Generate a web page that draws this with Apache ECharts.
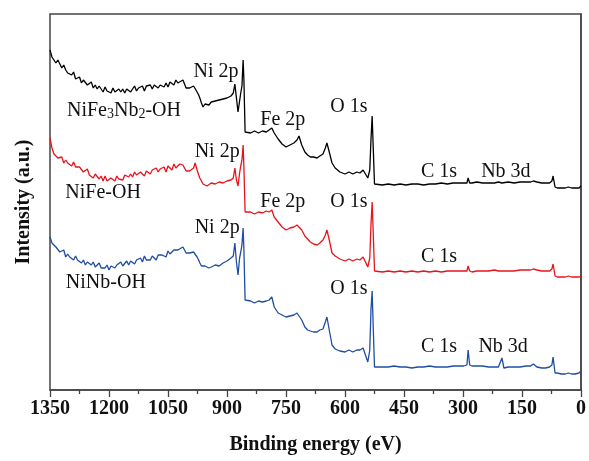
<!DOCTYPE html>
<html>
<head>
<meta charset="utf-8">
<title>XPS survey spectra</title>
<script src="https://cdn.jsdelivr.net/npm/echarts@6/dist/echarts.min.js"></script>
<style>
  html, body { margin: 0; padding: 0; background: #fff; }
  #chart { width: 589px; height: 461px; }
</style>
</head>
<body>
<div id="chart"></div>
<script>
// Binding energy grid (eV), shared by the three survey spectra
const bindingEnergy = [
  1350,1345,1340,1335,1330,1325,1320,1315,1310,1305,
  1300,1295,1290,1285,1280,1275,1270,1265,1260,1255,
  1250,1245,1240,1235,1230,1225,1220,1215,1210,1205,
  1200,1195,1190,1185,1180,1175,1170,1165,1160,1155,
  1150,1145,1140,1135,1130,1125,1120,1115,1110,1105,
  1100,1095,1090,1085,1080,1075,1070,1065,1060,1055,
  1050,1045,1040,1035,1030,1025,1020,
  1012,1008,1004,999,995,990,985,981,976,972,969,965,961,956,951,946,940,935,930,925,920,915,910,905,900,895,890,
  884,880,876,872,868,865,862,859,857,854,850,
  840,830,820,810,800,793,786,780,770,760,750,740,730,722,717,710,702,695,688,680,
  671,664,656,650,646,640,633,625,613,600,590,580,570,562,554,548,542,537,534,531,528,525,520,
  505,490,475,460,445,430,415,400,385,370,355,340,325,310,
  298,290,287,283,277,265,250,235,220,210,206,201,196,185,170,155,140,128,121,117,112,100,90,86,80,
  74,71,66,60,50,40,32,28,24,15,5,0
];

// Intensity (a.u.), offset stack: NiFe3Nb2-OH (top)
const niFe3Nb2OH = [
  340,333,333,327,330,326,322,325,320,317,
  319,315,318,311,312,313,307,310,310,305,
  305,308,302,305,301,304,302,298,303,299,
  301,297,302,298,297,301,298,301,297,301,
  302,298,301,304,299,302,301,304,299,304,
  302,305,301,305,307,302,305,307,303,307,
  303,308,308,305,310,307,309,
  310,306,302,300,302,303,304,306,298,295,292,287,283,286,287,285,288,287,289,288,290,289,291,290,292,293,294,
  297,306,292,278,289,297,304,330,310,258,259,
  257,259,257,259,258,260,262,257,251,246,243,245,247,250,254,245,238,235,233,233,
  232,234,236,242,247,238,227,222,218,216,218,216,218,217,220,216,212,220,250,274,240,206,206,
  205,206,205,206,205,206,206,205,206,206,207,206,207,207,
  207,207,212,207,207,208,207,207,207,208,210,207,207,208,207,208,208,208,209,211,208,207,207,206,207,
  209,214,203,202,202,202,203,204,202,202,202,204
];

// NiFe-OH (middle)
const niFeOH = [
  252,242,236,238,232,233,233,227,230,227,
  229,224,228,223,221,223,223,218,219,221,
  215,217,212,216,214,211,214,209,214,209,
  208,212,211,209,214,211,213,210,215,214,
  213,216,213,218,215,214,218,218,214,219,
  219,216,220,218,222,218,221,219,223,218,
  224,223,220,226,222,222,226,
  225,223,219,217,219,220,222,227,220,215,212,209,206,205,204,206,207,205,206,207,208,206,207,208,209,209,210,
  212,222,210,204,217,224,230,245,222,178,177,
  178,176,178,177,179,178,180,173,168,163,160,162,163,165,166,160,154,151,148,146,
  145,147,150,155,160,150,137,134,131,129,131,129,131,130,133,128,123,132,165,188,155,119,120,
  118,119,118,119,118,119,118,119,118,119,118,119,119,119,
  119,119,124,119,118,119,119,119,120,119,120,119,119,119,119,120,120,120,121,123,120,119,119,118,119,
  121,126,114,113,113,113,114,115,113,113,113,114
];

// NiNb-OH (bottom)
const niNbOH = [
  153,147,148,143,145,138,139,140,133,136,
  133,135,130,134,130,131,127,130,125,128,
  129,125,128,123,125,127,122,124,122,125,
  120,124,125,122,125,124,128,124,126,129,
  125,129,130,126,130,129,132,128,134,130,
  132,130,134,132,130,135,133,135,137,133,
  139,136,135,140,138,140,138,
  143,140,137,135,137,137,138,140,133,130,127,124,122,124,123,122,123,124,125,123,124,126,127,128,129,130,132,
  134,147,128,115,132,138,145,162,140,90,88,
  89,87,89,88,89,90,93,83,77,75,73,74,75,77,78,70,63,60,59,58,
  58,60,61,68,73,60,45,41,39,38,40,38,40,40,42,35,28,40,80,99,60,23,24,
  23,23,24,23,23,22,23,23,24,23,23,23,24,24,
  24,25,40,25,24,24,24,23,23,23,24,32,22,23,23,23,24,24,26,28,23,22,22,22,23,
  25,33,17,17,16,16,17,19,16,16,17,19
];

// X-axis tick labels
const energyTicks = [1350, 1200, 1050, 900, 750, 600, 450, 300, 150, 0];

// Peak assignments: [text, binding energy, intensity]
const labelsTop = [
  ['{n|NiFe}{s|3}{n|Nb}{s|2}{n|-OH}', 1162, 279],
  ['Ni 2p', 928, 318],
  ['Fe 2p', 758, 270],
  ['O 1s', 590, 283],
  ['C 1s', 361, 218],
  ['Nb 3d', 191, 218]
];
const labelsMid = [
  ['NiFe-OH', 1215, 197],
  ['Ni 2p', 925, 238],
  ['Fe 2p', 758, 188],
  ['O 1s', 590, 188],
  ['C 1s', 361, 133]
];
const labelsBottom = [
  ['NiNb-OH', 1208, 107],
  ['Ni 2p', 925, 162],
  ['O 1s', 590, 101],
  ['C 1s', 361, 43],
  ['Nb 3d', 198, 43]
];

const serif = '"Liberation Serif", "Times New Roman", serif';

function pairs(values) {
  return bindingEnergy.map((e, i) => [e, values[i]]);
}

function annotations(list) {
  return {
    silent: true,
    symbol: 'circle',
    symbolSize: 0,
    animation: false,
    data: list.map(([text, e, v]) => ({
      coord: [e, v],
      value: text,
      label: {
        show: true,
        position: 'inside',
        formatter: text,
        color: '#111',
        fontFamily: serif,
        fontSize: 20,
        rich: {
          n: { fontFamily: serif, fontSize: 20, color: '#111' },
          s: { fontFamily: serif, fontSize: 14, color: '#111', padding: [7, 0, 0, 0] }
        }
      }
    }))
  };
}

function spectrum(name, values, color, labels) {
  return {
    name: name,
    type: 'line',
    data: pairs(values),
    showSymbol: false,
    symbol: 'none',
    smooth: false,
    lineStyle: { color: color, width: 1.3 },
    animation: false,
    markPoint: annotations(labels)
  };
}

const chart = echarts.init(document.getElementById('chart'), null, { renderer: 'canvas' });
chart.setOption({
  backgroundColor: '#fff',
  animation: false,
  grid: {
    left: 50, right: 8, top: 14, bottom: 71,
    show: true, borderColor: '#444', borderWidth: 1.5
  },
  xAxis: {
    type: 'value',
    inverse: true,
    min: 0,
    max: 1350,
    interval: 150,
    name: 'Binding energy (eV)',
    nameLocation: 'middle',
    nameGap: 45,
    nameTextStyle: { fontFamily: serif, fontWeight: 'bold', fontSize: 20, color: '#111' },
    axisLine: { show: true, lineStyle: { color: '#444', width: 1.5 } },
    axisTick: { show: true, inside: false, length: 7, lineStyle: { color: '#444', width: 1.3 } },
    minorTick: { show: true, splitNumber: 2, length: 4, lineStyle: { color: '#444', width: 1.3 } },
    splitLine: { show: false },
    axisLabel: {
      margin: 9,
      fontFamily: serif, fontWeight: 'bold', fontSize: 20, color: '#111',
      formatter: v => (energyTicks.includes(v) ? String(v) : '')
    }
  },
  yAxis: {
    type: 'value',
    min: 0,
    max: 376,
    name: 'Intensity (a.u.)',
    nameLocation: 'middle',
    nameGap: 16,
    nameTextStyle: { fontFamily: serif, fontWeight: 'bold', fontSize: 20, color: '#111' },
    axisLine: { show: true, lineStyle: { color: '#444', width: 1.5 } },
    axisTick: { show: false },
    axisLabel: { show: false },
    splitLine: { show: false }
  },
  series: [
    spectrum('NiFe3Nb2-OH', niFe3Nb2OH, '#000000', labelsTop),
    spectrum('NiFe-OH', niFeOH, '#e8141c', labelsMid),
    spectrum('NiNb-OH', niNbOH, '#1f4ea3', labelsBottom)
  ]
});
</script>
</body>
</html>
